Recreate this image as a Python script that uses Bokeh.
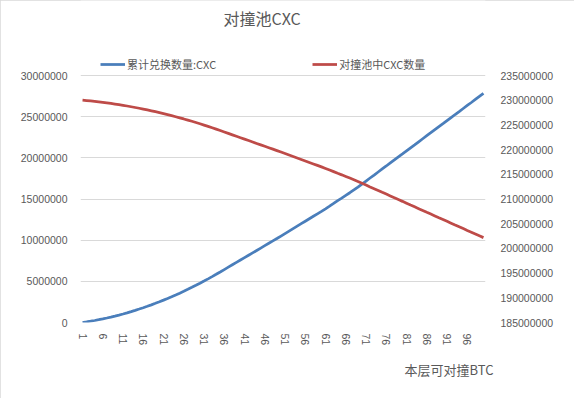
from bokeh.plotting import figure
from bokeh.models import (Range1d, LinearAxis, FixedTicker, Legend, LegendItem, Title, Label,
                          NumeralTickFormatter)
from bokeh.embed import file_html
from bokeh.resources import INLINE

# ---------------- data ----------------
categories = list(range(1, 101))
x_tick_values = [1, 6, 11, 16, 21, 26, 31, 36, 41, 46, 51, 56, 61, 66, 71, 76, 81, 86, 91, 96]

cum_exchanged = [
    0, 75000, 156000, 244000, 338000, 439000, 546000, 659000, 779000, 905000,
    1038000, 1177000, 1322000, 1474000, 1632000, 1797000, 1968000, 2145000, 2329000, 2519000,
    2716000, 2919000, 3128000, 3344000, 3566000, 3795000, 4030000, 4271000, 4519000, 4773000,
    5034000, 5301000, 5574000, 5854000, 6140000, 6430000, 6720000, 7010000, 7300000, 7590000,
    7880000, 8170000, 8460000, 8750000, 9040000, 9330000, 9620000, 9910000, 10200000, 10500000,
    10800000, 11100000, 11400000, 11700000, 12000000, 12300000, 12600000, 12900000, 13200000, 13500000,
    13810000, 14130000, 14460000, 14800000, 15110000, 15430000, 15760000, 16100000, 16450000, 16810000,
    17180000, 17550000, 17910000, 18280000, 18650000, 19010000, 19380000, 19750000, 20120000, 20480000,
    20850000, 21220000, 21580000, 21950000, 22320000, 22690000, 23050000, 23420000, 23790000, 24150000,
    24520000, 24890000, 25260000, 25620000, 25990000, 26360000, 26720000, 27090000, 27460000, 27820000,
]

pool_cxc = [
    230000000, 229925000, 229844000, 229756000, 229662000, 229561000, 229454000, 229341000, 229221000, 229095000,
    228962000, 228823000, 228678000, 228526000, 228368000, 228203000, 228032000, 227855000, 227671000, 227481000,
    227284000, 227081000, 226872000, 226656000, 226434000, 226205000, 225970000, 225729000, 225481000, 225227000,
    224966000, 224699000, 224426000, 224146000, 223860000, 223570000, 223280000, 222990000, 222700000, 222410000,
    222120000, 221830000, 221540000, 221250000, 220960000, 220670000, 220380000, 220090000, 219800000, 219500000,
    219200000, 218900000, 218600000, 218300000, 218000000, 217700000, 217400000, 217100000, 216800000, 216500000,
    216190000, 215870000, 215540000, 215200000, 214890000, 214570000, 214240000, 213900000, 213550000, 213190000,
    212820000, 212450000, 212090000, 211720000, 211350000, 210990000, 210620000, 210250000, 209880000, 209520000,
    209150000, 208780000, 208420000, 208050000, 207680000, 207310000, 206950000, 206580000, 206210000, 205850000,
    205480000, 205110000, 204740000, 204380000, 204010000, 203640000, 203280000, 202910000, 202540000, 202180000,
]

left_ticks = [0, 5000000, 10000000, 15000000, 20000000, 25000000, 30000000]
right_ticks = [185000000, 190000000, 195000000, 200000000, 205000000, 210000000,
               215000000, 220000000, 225000000, 230000000, 235000000]

title_text = "对撞池CXC"
series_names = ["累计兑换数量:CXC", "对撞池中CXC数量"]
x_title = "本层可对撞BTC"

# ---------------- styles ----------------
BLUE = "#4A7EBB"
RED = "#BE4B48"
GRID = "#D9D9D9"
TXT = "#595959"
NUM_FONT = "Liberation Sans"
CJK_FONT = "Noto Sans CJK SC"
NUM_SIZE = "10.5px"

# The data area (30M .. 0) spans y = 75 .. 322 px. The frame is extended up to the
# top of the canvas so the title and legend (above the 30M grid line) can live in it.
GRID_TOP_PX, GRID_BOTTOM_PX = 75.0, 322.0
SPAN_PX = GRID_BOTTOM_PX - GRID_TOP_PX
HEADROOM = GRID_TOP_PX / SPAN_PX
left_top = left_ticks[-1] + (left_ticks[-1] - left_ticks[0]) * HEADROOM
right_top = right_ticks[-1] + (right_ticks[-1] - right_ticks[0]) * HEADROOM


def px_to_left(py):
    """screen y (px from top) -> left-axis data value"""
    return (GRID_BOTTOM_PX - py) / SPAN_PX * (left_ticks[-1] - left_ticks[0])


def px_to_x(px):
    """screen x (px from left) -> category coordinate"""
    return 0.5 + (px - 80.0) / 4.05


p = figure(width=574, height=398, output_backend="svg", toolbar_location=None, title=None,
           x_range=Range1d(0.5, 100.5), y_range=Range1d(left_ticks[0], left_top),
           min_border_left=80, min_border_right=89, min_border_top=0, min_border_bottom=76,
           styles={"outline": "1px solid #D9D9D9", "outline-offset": "-1px"})
p.extra_y_ranges = {"right": Range1d(right_ticks[0], right_top)}
p.outline_line_color = None
p.background_fill_color = "white"
p.border_fill_color = "white"

# grid
p.xgrid.visible = False
p.ygrid.ticker = FixedTicker(ticks=left_ticks)
p.ygrid.grid_line_color = GRID
p.ygrid.grid_line_width = 1

# x axis
xa = p.xaxis[0]
xa.ticker = FixedTicker(ticks=x_tick_values)
xa.major_label_orientation = "vertical"
xa.axis_line_color = None
xa.major_tick_line_color = None
xa.minor_tick_line_color = None
xa.major_label_text_font = NUM_FONT
xa.major_label_text_font_size = NUM_SIZE
xa.major_label_text_color = TXT
xa.major_label_standoff = 5

# left axis
ya = p.yaxis[0]
ya.ticker = FixedTicker(ticks=left_ticks)
ya.formatter = NumeralTickFormatter(format="0")
ya.axis_line_color = None
ya.major_tick_line_color = None
ya.minor_tick_line_color = None
ya.major_label_text_font = NUM_FONT
ya.major_label_text_font_size = NUM_SIZE
ya.major_label_text_color = TXT
ya.major_label_standoff = 7

# right axis
ra = LinearAxis(y_range_name="right", ticker=FixedTicker(ticks=right_ticks),
                formatter=NumeralTickFormatter(format="0"))
ra.axis_line_color = None
ra.major_tick_line_color = None
ra.minor_tick_line_color = None
ra.major_label_text_font = NUM_FONT
ra.major_label_text_font_size = NUM_SIZE
ra.major_label_text_color = TXT
ra.major_label_standoff = 9
p.add_layout(ra, "right")

# series
r_blue = p.line(categories, cum_exchanged, line_color=BLUE, line_width=2.75)
r_red = p.line(categories, pool_cxc, line_color=RED, line_width=2.75, y_range_name="right")

# chart title
p.add_layout(Label(x=px_to_x(223), y=px_to_left(17), text=title_text,
                   text_align="left", text_baseline="middle",
                   text_font=CJK_FONT, text_font_size="16px", text_color=TXT))

# legend in the strip above the 30M grid line
legend = Legend(items=[LegendItem(label=series_names[0], renderers=[r_blue]),
                       LegendItem(label=series_names[1], renderers=[r_red])],
                orientation="horizontal", location=(20, 250),
                glyph_width=25, glyph_height=12, label_standoff=2, spacing=96,
                padding=2, margin=0, border_line_color=None, background_fill_alpha=0,
                label_text_font=CJK_FONT, label_text_font_size="11px",
                label_text_color=TXT)
p.add_layout(legend)

# x axis title (below, right aligned)
p.add_layout(Title(text=x_title, align="right", offset=-8, standoff=18,
                   text_font=CJK_FONT, text_font_size="13px", text_font_style="normal",
                   text_color=TXT), "below")

open("out.html", "w").write(file_html(p, INLINE))
